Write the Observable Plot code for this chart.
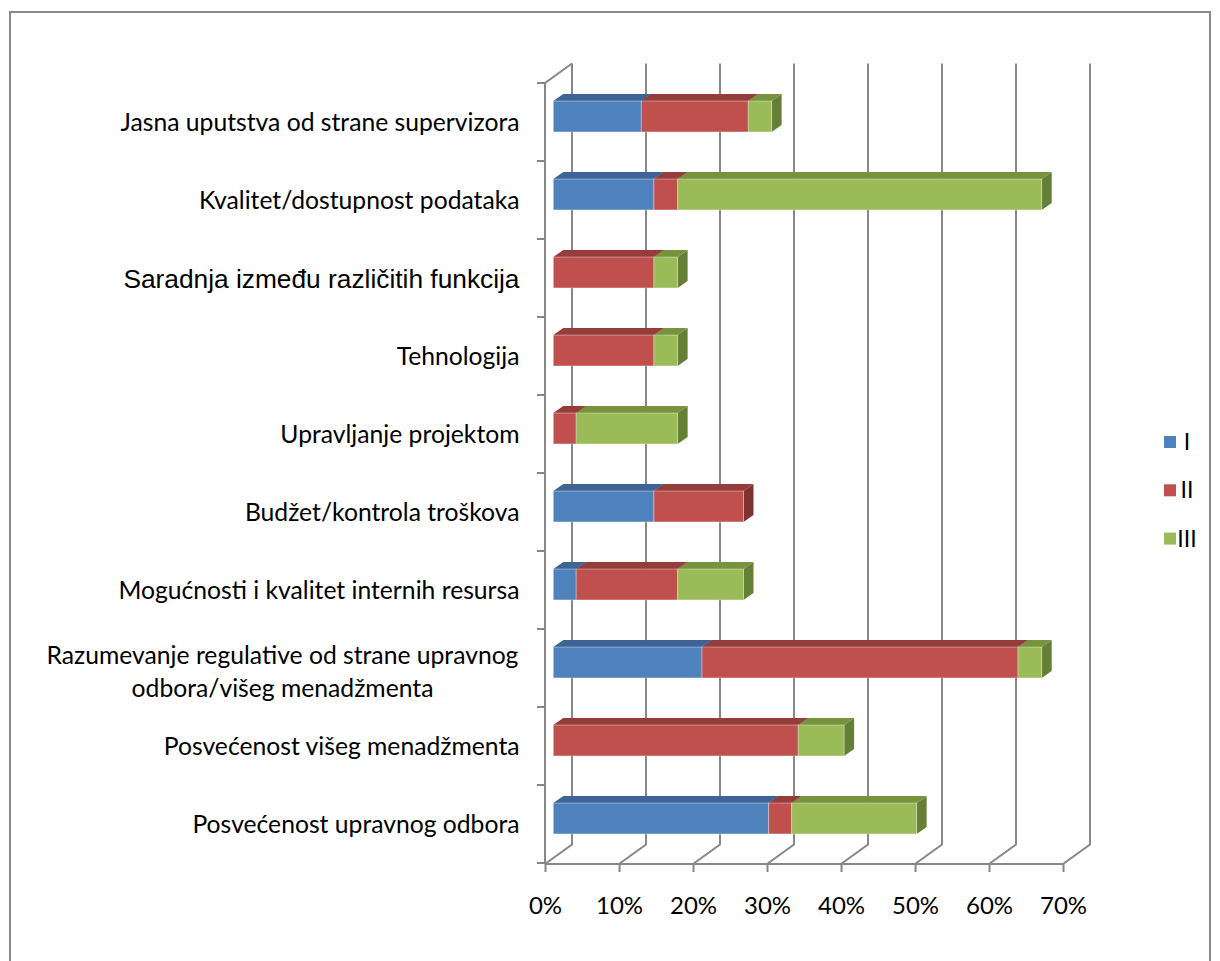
<!DOCTYPE html>
<html>
<head>
<meta charset="utf-8">
<script src="https://cdn.jsdelivr.net/npm/d3@7"></script>
<script src="https://cdn.jsdelivr.net/npm/@observablehq/plot@0.6"></script>
<style>
  html, body { margin: 0; padding: 0; background: #ffffff; }
  svg { display: block; }
</style>
</head>
<body>
<div id="chart"></div>
<script>
// ---------- data ----------
const categories = [
  "Jasna uputstva od strane supervizora",
  "Kvalitet/dostupnost podataka",
  "Saradnja između različitih funkcija",
  "Tehnologija",
  "Upravljanje projektom",
  "Budžet/kontrola troškova",
  "Mogućnosti i kvalitet internih resursa",
  "Razumevanje regulative od strane upravnog\nodbora/višeg menadžmenta",
  "Posvećenost višeg menadžmenta",
  "Posvećenost upravnog odbora"
];
const series = ["I", "II", "III"];
// percent values
const valuesI   = [11.9, 13.6, 0,    0,    0,    13.6, 3.1,  20.1, 0,    29.1];
const valuesII  = [14.45, 3.2, 13.6, 13.6, 3.1,  12.1, 13.7, 42.7, 33.1, 3.1];
const valuesIII = [3.15, 49.2, 3.2,  3.2,  13.7, 0,    8.9,  3.2,  6.2,  16.9];
const xTicks = [0, 0.1, 0.2, 0.3, 0.4, 0.5, 0.6, 0.7];
const xTickLabels = ["0%", "10%", "20%", "30%", "40%", "50%", "60%", "70%"];

// ---------- styles ----------
const frontColors = ["#4F81BD", "#C0504D", "#9BBB59"];
const topColors   = ["#3D6494", "#953D3B", "#77933D"];
const sideColors  = ["#345882", "#7E3331", "#667F36"];
const lineColor = "#878787";
const arialLabel = "Saradnja između različitih funkcija";

// 3D geometry (pixels)
const WALL = [27, -19.5];      // offset from front plane to back wall
const BAR_FRONT = [8.3, -6.5]; // bar front face offset from front plane
const BAR_DEPTH = [10, -7];    // bar thickness in depth
const BAR_H = 31;              // bar face height

// stacked rows
const seriesValues = [valuesI, valuesII, valuesIII];
const rows = [];
categories.forEach((cat, i) => {
  let acc = 0;
  seriesValues.forEach((vals, s) => {
    const v = vals[i] / 100;
    if (v > 0) rows.push({cat, series: series[s], s, x1: acc, x2: acc + v});
    acc += v;
  });
});

function bw(scales) {
  const b = scales.y.bandwidth;
  return typeof b === "function" ? b() : b;
}

// outer chart border
function outerBorder(index, scales, values, dims) {
  const g = d3.create("svg:g");
  g.append("rect").attr("x", 10).attr("y", 12)
    .attr("width", dims.width - 20).attr("height", dims.height + 20)
    .attr("fill", "none").attr("stroke", "#8a8a8a").attr("stroke-width", 2);
  return g.node();
}

// back wall gridlines, floor diagonals, left wall, front axes lines
function wallFrame(index, scales, values, dims) {
  const g = d3.create("svg:g")
    .attr("fill", "none").attr("stroke", lineColor).attr("stroke-width", 2);
  const [yTop, yBot] = scales.y.range();
  const x0 = scales.x(xTicks[0]);
  const xEnd = scales.x(xTicks[xTicks.length - 1]);
  for (const t of xTicks) {
    const xf = scales.x(t);
    g.append("path").attr("d",
      `M${xf},${yBot}L${xf + WALL[0]},${yBot + WALL[1]}L${xf + WALL[0]},${yTop + WALL[1]}`);
  }
  g.append("path").attr("d", `M${x0},${yBot}L${x0},${yTop}L${x0 + WALL[0]},${yTop + WALL[1]}`);
  g.append("path").attr("d", `M${x0},${yBot}L${xEnd},${yBot}`);
  const step = bw(scales);
  for (let i = 0; i <= categories.length; i++) {
    const y = yTop + i * step;
    g.append("path").attr("d", `M${x0 - 8},${y}L${x0},${y}`);
  }
  return g.node();
}

// top and side faces of the 3D bars
function barSidesTops(index, scales, values, dims) {
  const g = d3.create("svg:g");
  const step = bw(scales);
  const geo = rows.map(r => {
    const x1 = scales.x(r.x1) + BAR_FRONT[0];
    const x2 = scales.x(r.x2) + BAR_FRONT[0];
    const yt = scales.y(r.cat) + (step - BAR_H) / 2 + BAR_FRONT[1];
    return {r, x1, x2, yt, yb: yt + BAR_H};
  });
  const [dx, dy] = BAR_DEPTH;
  for (const d of geo) {
    g.append("path")
      .attr("d", `M${d.x2},${d.yt}L${d.x2 + dx},${d.yt + dy}L${d.x2 + dx},${d.yb + dy}L${d.x2},${d.yb}Z`)
      .attr("fill", sideColors[d.r.s]);
  }
  for (const d of geo) {
    g.append("path")
      .attr("d", `M${d.x1},${d.yt}L${d.x1 + dx},${d.yt + dy}L${d.x2 + dx},${d.yt + dy}L${d.x2},${d.yt}Z`)
      .attr("fill", topColors[d.r.s]);
  }
  return g.node();
}

// legend on the right
function legend(index, scales, values, dims) {
  const g = d3.create("svg:g");
  series.forEach((s, i) => {
    const y = 436 + i * 48.3;
    g.append("rect").attr("x", 1164).attr("y", y).attr("width", 12).attr("height", 12)
      .attr("fill", frontColors[i]);
    g.append("text").attr("x", 1187).attr("y", y + 14)
      .attr("font-family", "Lato, sans-serif").attr("font-size", 23)
      .attr("fill", "#000").text(s);
  });
  return g.node();
}

const singleLabels = categories.filter(c => !c.includes("\n") && c !== arialLabel);
const multiLabels = categories.filter(c => c.includes("\n"));

const chart = Plot.plot({
  width: 1220,
  height: 961,
  marginTop: 83,
  marginBottom: 97,
  marginLeft: 545,
  marginRight: 157,
  style: {fontFamily: "Lato, sans-serif", background: "#ffffff", overflow: "visible"},
  x: {domain: [0, 0.7]},
  y: {domain: categories, padding: 0, axis: null},
  color: {domain: series, range: frontColors},
  marks: [
    outerBorder,
    wallFrame,
    Plot.axisX(xTicks, {
      tickSize: 8, tickPadding: 24, strokeWidth: 2, stroke: lineColor, fill: "#000",
      fontSize: 24, label: null,
      tickFormat: d => xTickLabels[xTicks.indexOf(d)]
    }),
    barSidesTops,
    Plot.barX(rows, {
      y: "cat", x1: "x1", x2: "x2", fill: "series",
      insetTop: 23.55, insetBottom: 23.55,
      dx: BAR_FRONT[0], dy: BAR_FRONT[1],
      stroke: "#ffffff", strokeOpacity: 0.35, strokeWidth: 1
    }),
    Plot.text(singleLabels, {
      y: d => d, text: d => d, frameAnchor: "left", textAnchor: "end",
      dx: -26, fontSize: 24.7, fill: "#000"
    }),
    Plot.text([arialLabel], {
      y: d => d, text: d => d, frameAnchor: "left", textAnchor: "end",
      dx: -26, fontSize: 26.3, fill: "#000", fontFamily: "Liberation Sans, Arial, sans-serif"
    }),
    Plot.text(multiLabels, {
      y: d => d, text: d => d, frameAnchor: "left", textAnchor: "middle",
      dx: -263, fontSize: 24.7, lineHeight: 1.34, fill: "#000"
    }),
    legend
  ]
});
document.getElementById("chart").appendChild(chart);
</script>
</body>
</html>
